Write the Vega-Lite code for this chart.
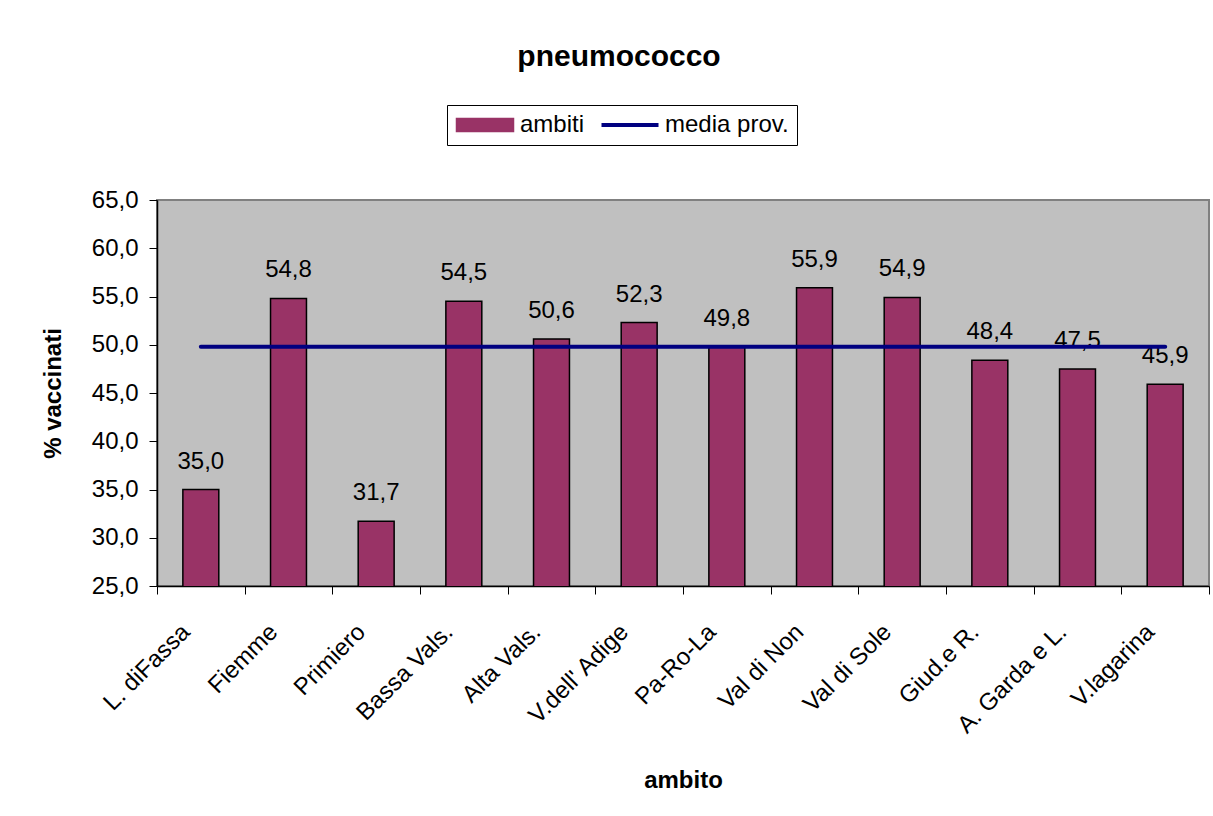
{
  "$schema": "https://vega.github.io/schema/vega-lite/v6.json",
  "width": 1052,
  "height": 386,
  "autosize": {"type": "none"},
  "padding": {"left": 157, "top": 200, "right": 4, "bottom": 230},
  "background": "white",
  "title": {
    "text": "pneumococco",
    "fontSize": 30,
    "fontWeight": "bold",
    "font": "Liberation Sans",
    "anchor": "middle",
    "frame": "group",
    "dx": -64,
    "baseline": "alphabetic",
    "offset": 9,
    "color": "black"
  },
  "data": {
    "values": [
      {"ambito": "L. diFassa", "valore": 35.0, "media": 49.8},
      {"ambito": "Fiemme", "valore": 54.8, "media": 49.8},
      {"ambito": "Primiero", "valore": 31.7, "media": 49.8},
      {"ambito": "Bassa Vals.", "valore": 54.5, "media": 49.8},
      {"ambito": "Alta Vals.", "valore": 50.6, "media": 49.8},
      {"ambito": "V.dell' Adige", "valore": 52.3, "media": 49.8},
      {"ambito": "Pa-Ro-La", "valore": 49.8, "media": 49.8},
      {"ambito": "Val di Non", "valore": 55.9, "media": 49.8},
      {"ambito": "Val di Sole", "valore": 54.9, "media": 49.8},
      {"ambito": "Giud.e R.", "valore": 48.4, "media": 49.8},
      {"ambito": "A. Garda e L.", "valore": 47.5, "media": 49.8},
      {"ambito": "V.lagarina", "valore": 45.9, "media": 49.8}
    ]
  },
  "encoding": {
    "x": {
      "field": "ambito",
      "type": "nominal",
      "sort": null,
      "scale": {"paddingInner": 0, "paddingOuter": 0},
      "axis": {
        "title": "ambito",
        "labelAngle": -45,
        "labelFontSize": 24,
        "labelFont": "Liberation Sans",
        "labelColor": "black",
        "labelAlign": "right",
        "labelBaseline": "middle",
        "labelPadding": 34,
        "labelOffset": -15,
        "labelLimit": 300,
        "tickBand": "extent",
        "tickSize": 8,
        "tickColor": "black",
        "tickWidth": 1,
        "domainColor": "black",
        "domainWidth": 1.5,
        "grid": false,
        "titleFontSize": 24,
        "titleFont": "Liberation Sans",
        "titleFontWeight": "bold",
        "titleColor": "black",
        "titleY": 194,
        "titleBaseline": "middle"
      }
    }
  },
  "layer": [
    {
      "mark": {"type": "bar", "width": {"band": 0.41}, "stroke": "black", "strokeWidth": 1.5, "clip": true},
      "encoding": {
        "y": {
          "field": "valore",
          "type": "quantitative",
          "title": "% vaccinati",
          "scale": {"domain": [25, 65], "nice": false, "zero": false}
        },
        "color": {
          "datum": "ambiti",
          "scale": {"domain": ["ambiti", "media prov."], "range": ["#993366", "#000080"]},
          "legend": {
            "orient": "none",
            "legendX": 290,
            "legendY": -95,
            "direction": "horizontal",
            "title": null,
            "labelFontSize": 24,
            "labelFont": "Liberation Sans",
            "labelColor": "black",
            "strokeColor": "black",
            "fillColor": "white",
            "padding": 8,
            "symbolSize": 3249,
            "symbolOffset": 18,
            "columnPadding": 8,
            "labelOffset": 23,
            "encoding": {
              "symbols": {
                "shape": {"value": {"expr": "datum.value === 'ambiti' ? 'M-1,-0.23H1V0.23H-1Z' : 'M-1,0H1'"}},
                "fill": {"value": {"expr": "datum.value === 'ambiti' ? '#993366' : 'transparent'"}},
                "stroke": {"value": {"expr": "datum.value === 'ambiti' ? 'black' : '#000080'"}},
                "strokeWidth": {"value": {"expr": "datum.value === 'ambiti' ? 1.5 : 4"}},
                "opacity": {"value": 1}
              }
            }
          }
        }
      }
    },
    {
      "mark": {"type": "text", "fontSize": 24, "font": "Liberation Sans", "baseline": "alphabetic", "dy": -21, "color": "black"},
      "encoding": {
        "y": {"field": "valore", "type": "quantitative", "title": "% vaccinati"},
        "text": {"field": "valore", "type": "quantitative", "format": ".1f"}
      }
    },
    {
      "mark": {"type": "line", "strokeWidth": 4, "strokeCap": "round"},
      "encoding": {
        "y": {"field": "media", "type": "quantitative", "title": "% vaccinati"},
        "color": {
          "datum": "media prov.",
          "legend": {
            "orient": "none",
            "legendX": 290,
            "legendY": -95,
            "direction": "horizontal",
            "title": null,
            "labelFontSize": 24,
            "labelFont": "Liberation Sans",
            "labelColor": "black",
            "strokeColor": "black",
            "fillColor": "white",
            "padding": 8,
            "symbolSize": 3249,
            "symbolOffset": 18,
            "columnPadding": 8,
            "labelOffset": 23,
            "encoding": {
              "symbols": {
                "shape": {"value": {"expr": "datum.value === 'ambiti' ? 'M-1,-0.23H1V0.23H-1Z' : 'M-1,0H1'"}},
                "fill": {"value": {"expr": "datum.value === 'ambiti' ? '#993366' : 'transparent'"}},
                "stroke": {"value": {"expr": "datum.value === 'ambiti' ? 'black' : '#000080'"}},
                "strokeWidth": {"value": {"expr": "datum.value === 'ambiti' ? 1.5 : 4"}},
                "opacity": {"value": 1}
              }
            }
          }
        }
      }
    }
  ],
  "config": {
    "locale": {"number": {"decimal": ",", "thousands": ".", "grouping": [3], "currency": ["€", ""]}},
    "font": "Liberation Sans",
    "view": {"fill": "#C0C0C0", "stroke": "#808080", "strokeWidth": 2},
    "axisY": {
      "values": [25, 30, 35, 40, 45, 50, 55, 60, 65],
      "format": ".1f",
      "labelFontSize": 24,
      "labelFont": "Liberation Sans",
      "labelColor": "black",
      "labelPadding": 11,
      "tickSize": 8,
      "tickColor": "black",
      "domainColor": "black",
      "domainWidth": 1.5,
      "grid": false,
      "titleFontSize": 24,
      "titleFont": "Liberation Sans",
      "titleFontWeight": "bold",
      "titleColor": "black",
      "titlePadding": 26
    }
  }
}
